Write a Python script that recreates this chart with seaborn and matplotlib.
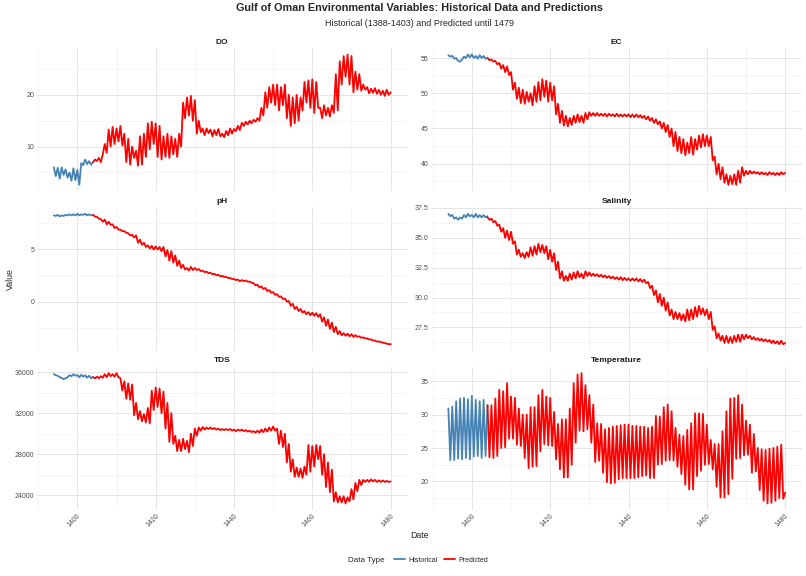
import numpy as np
import pandas as pd
import matplotlib
matplotlib.use("Agg")
import matplotlib.pyplot as plt
import seaborn as sns
from matplotlib.ticker import MultipleLocator, FormatStrFormatter
from matplotlib.lines import Line2D

# --- values (two readings per year) ---
HIST_START = 1394.0
PRED_START = 1404.0

do_hist = [6.0, 4.3, 5.9, 3.8, 6.0, 4.5, 5.6, 4.0, 5.0, 3.4, 5.8, 3.5, 5.5, 2.6,
           6.8, 6.4, 7.5, 6.6, 7.2, 6.5, 7.0]
do_pred = [7.0, 7.5, 7.2, 7.8, 7.0, 8.5, 10.5, 8.8, 13.3, 10.0, 13.8, 10.5, 13.5, 11.0, 14.0, 10.2, 12.5, 7.0, 11.5, 6.5,
           10.0, 7.8, 9.2, 6.3, 12.0, 6.5, 12.5, 8.0, 14.5, 9.5, 14.8, 10.5, 14.5, 8.0, 14.0, 7.5, 12.0, 8.0, 12.5, 7.8,
           12.0, 8.5, 11.5, 8.0, 12.5, 10.0, 18.5, 15.5, 19.5, 16.0, 19.8, 15.0, 19.0, 12.5, 15.0, 12.8, 13.5, 12.2, 13.5, 12.6,
           13.3, 12.0, 13.2, 12.2, 13.4, 12.0, 12.5, 11.8, 13.0, 12.2, 13.5, 12.5, 13.4, 13.0, 14.0, 13.2, 14.6, 14.0, 14.8, 14.3,
           15.0, 14.5, 15.2, 14.8, 15.5, 15.0, 17.5, 16.0, 20.5, 17.5, 21.5, 18.5, 22.0, 18.0, 22.0, 17.0, 21.5, 18.0, 22.0, 15.5,
           20.0, 14.0, 19.5, 14.5, 20.0, 15.0, 19.5, 17.0, 22.5, 18.5, 22.8, 17.5, 23.0, 16.5, 22.5, 17.5, 17.5, 15.5, 18.0, 16.0,
           17.5, 15.8, 18.0, 16.5, 24.0, 17.0, 26.5, 22.0, 27.5, 23.5, 27.8, 22.0, 27.5, 20.5, 24.5, 21.0, 24.0, 20.8, 22.0, 21.0,
           21.5, 20.3, 21.2, 20.4, 21.3, 20.2, 21.0, 20.0, 20.8, 19.8, 21.0, 20.0,
           20.5]

ec_hist = [55.4, 55.2, 55.3, 54.9, 55.0, 54.6, 54.5, 54.8, 55.2, 55.0, 55.5, 55.1, 55.5, 55.0,
           55.3, 54.9, 55.4, 55.0, 55.3, 54.9, 55.0]
ec_pred = [55.0, 54.7, 54.8, 54.5, 54.6, 54.1, 54.3, 53.5, 54.0, 53.0, 53.8, 52.6, 53.0, 50.5, 51.5, 49.2, 50.8, 48.6, 50.5, 48.5,
           50.2, 48.8, 50.0, 48.3, 51.0, 48.8, 51.6, 49.0, 52.0, 49.5, 51.8, 48.8, 51.5, 49.0, 51.0, 47.0, 48.5, 45.8, 47.5, 45.4,
           46.8, 45.3, 46.5, 45.5, 46.8, 45.8, 47.0, 45.9, 46.8, 45.8, 47.2, 46.3, 47.3, 46.8, 47.2, 46.8, 47.2, 46.8, 47.1, 46.8,
           47.1, 46.7, 47.1, 46.8, 47.0, 46.7, 47.1, 46.7, 47.0, 46.7, 47.0, 46.7, 47.0, 46.6, 47.0, 46.6, 47.0, 46.6, 46.9, 46.5,
           46.8, 46.3, 46.7, 46.1, 46.5, 45.8, 46.3, 45.6, 46.0, 45.0, 45.8, 44.5, 45.5, 43.8, 45.0, 42.5, 44.5, 41.8, 43.8, 41.5,
           43.5, 41.2, 43.0, 41.5, 43.8, 41.3, 43.5, 42.0, 44.0, 42.3, 44.2, 42.5, 44.0, 42.5, 43.8, 40.5, 41.0, 38.5, 40.0, 37.8,
           39.5, 37.3, 38.5, 37.0, 38.3, 37.1, 38.5, 37.0, 39.0, 37.3, 39.5, 38.3, 39.0, 38.5, 39.0, 38.6, 38.9, 38.6, 38.8, 38.5,
           38.8, 38.5, 38.7, 38.4, 38.8, 38.5, 38.7, 38.4, 38.7, 38.4, 38.8, 38.5,
           38.7]

ph_hist = [8.2, 8.15, 8.25, 8.1, 8.2, 8.15, 8.25, 8.2, 8.3, 8.2, 8.3, 8.2, 8.35, 8.2,
           8.3, 8.25, 8.35, 8.2, 8.3, 8.2, 8.25]
ph_pred = [8.25, 8.1, 8.05, 7.9, 7.85, 7.6, 7.8, 7.35, 7.6, 7.3, 7.35, 7.0, 7.1, 6.85, 6.85, 6.7, 6.7, 6.55, 6.5, 6.3,
           6.35, 6.1, 6.3, 5.6, 5.9, 5.4, 5.6, 5.2, 5.35, 5.05, 5.3, 4.95, 5.25, 4.95, 5.2, 4.8, 5.2, 4.3, 4.9, 3.9,
           4.8, 3.7, 4.4, 3.4, 3.9, 3.2, 3.5, 3.05, 3.2, 2.95, 3.3, 3.0, 3.2, 3.0, 3.1, 2.9, 2.95, 2.8, 2.85, 2.7,
           2.75, 2.6, 2.65, 2.5, 2.55, 2.4, 2.45, 2.35, 2.35, 2.25, 2.25, 2.15, 2.15, 2.05, 2.1, 1.95, 2.05, 1.95, 2.0, 1.9,
           1.9, 1.8, 1.75, 1.55, 1.6, 1.35, 1.45, 1.2, 1.3, 1.0, 1.1, 0.85, 0.9, 0.65, 0.7, 0.45, 0.5, 0.25, 0.3, 0.0,
           0.05, -0.4, -0.2, -0.7, -0.5, -0.9, -0.7, -1.05, -0.9, -1.2, -1.0, -1.3, -1.05, -1.35, -1.1, -1.45, -1.2, -1.9, -1.5, -2.3,
           -1.7, -2.6, -2.0, -2.9, -2.4, -3.1, -2.8, -3.2, -3.0, -3.25, -3.05, -3.3, -3.1, -3.35, -3.2, -3.35, -3.3, -3.45, -3.4, -3.5,
           -3.5, -3.6, -3.6, -3.7, -3.7, -3.8, -3.8, -3.85, -3.9, -3.95, -4.0, -4.05,
           -4.05]

sal_hist = [37.0, 36.8, 36.9, 36.6, 36.7, 36.5, 36.7, 36.6, 36.9, 36.7, 37.0, 36.8, 36.9, 36.7,
            37.0, 36.7, 36.9, 36.7, 36.9, 36.7, 36.8]
sal_pred = [36.7, 36.5, 36.6, 36.3, 36.4, 36.0, 36.1, 35.5, 35.8, 35.0, 35.6, 34.8, 35.5, 34.5, 34.7, 33.6, 34.0, 33.4, 33.7, 33.3,
            33.8, 33.4, 34.2, 33.5, 34.3, 33.6, 34.5, 33.8, 34.4, 33.7, 34.3, 33.2, 34.0, 33.0, 33.7, 32.3, 33.0, 31.6, 32.2, 31.4,
            31.8, 31.4, 32.0, 31.5, 32.1, 31.6, 32.2, 31.7, 32.0, 31.6, 32.2, 31.8, 32.1, 31.8, 32.0, 31.8, 31.95, 31.75, 31.9, 31.7,
            31.85, 31.65, 31.8, 31.6, 31.75, 31.55, 31.7, 31.5, 31.7, 31.45, 31.65, 31.45, 31.6, 31.4, 31.6, 31.4, 31.6, 31.35, 31.55, 31.3,
            31.5, 31.2, 31.3, 30.8, 31.0, 30.2, 30.6, 29.6, 30.3, 29.3, 30.0, 28.9, 29.6, 28.5, 29.0, 28.2, 28.8, 28.2, 28.7, 28.1,
            28.6, 28.0, 29.0, 28.1, 29.0, 28.2, 29.2, 28.4, 29.3, 28.6, 29.1, 28.5, 29.0, 28.2, 28.8, 27.3, 27.6, 26.6, 27.0, 26.4,
            26.8, 26.2, 26.8, 26.2, 26.7, 26.2, 26.8, 26.3, 26.9, 26.3, 26.9, 26.5, 26.9, 26.6, 26.8, 26.5, 26.7, 26.45, 26.6, 26.4,
            26.55, 26.35, 26.5, 26.3, 26.45, 26.2, 26.4, 26.15, 26.35, 26.1, 26.4, 26.1,
            26.2]

tds_hist = [35800, 35700, 35650, 35500, 35450, 35300, 35400, 35500, 35700, 35600, 35800, 35650, 35700, 35500,
            35750, 35550, 35700, 35450, 35650, 35400, 35550]
tds_pred = [35500, 35400, 35550, 35400, 35600, 35450, 35800, 35500, 35900, 35600, 35800, 35550, 35900, 35500, 35400, 34200, 35100, 33400, 34900, 33300,
            34800, 31800, 33000, 31400, 32200, 31200, 31900, 31100, 32500, 31000, 34200, 32300, 34500, 32600, 34400, 32000, 34100, 30500, 33000, 29200,
            32000, 29000, 29800, 28300, 29400, 28300, 29500, 28500, 29300, 28200, 30000, 28800, 30500, 29800, 30600, 30300, 30650, 30400, 30600, 30450,
            30600, 30450, 30550, 30400, 30500, 30350, 30450, 30350, 30450, 30350, 30450, 30300, 30400, 30250, 30400, 30300, 30400, 30250, 30350, 30200,
            30300, 30150, 30250, 30100, 30300, 30100, 30400, 30150, 30500, 30200, 30600, 30300, 30700, 30300, 30500, 29000, 30300, 28700, 30000, 27200,
            29000, 26300, 27500, 25800, 26700, 25800, 26600, 25700, 26800, 26000, 28900, 26300, 28800, 26800, 28900, 27500, 28800, 26000, 28000, 24800,
            27200, 24300, 26500, 23400, 24300, 23300, 23900, 23300, 23900, 23200, 23800, 23400, 24600, 23600, 25200, 24400, 25500, 25000, 25500, 25300,
            25500, 25300, 25550, 25350, 25500, 25300, 25450, 25300, 25450, 25300, 25400, 25300,
            25350]

temp_hist = [30.9, 23.2, 31.2, 23.2, 32.0, 23.4, 32.4, 23.3, 32.5, 23.5, 32.3, 23.3, 32.8, 23.7,
             32.2, 23.8, 32.0, 23.5, 32.2, 23.8, 31.4]
# yearly summer peaks and winter troughs of the predicted temperature
temp_peaks = [31.4, 31.4, 32.4, 33.7, 33.5, 34.7, 32.7, 32.5, 30.9, 30.0,
              30.0, 31.1, 31.1, 32.9, 33.7, 32.7, 32.5, 30.4, 28.6, 29.3,
              29.3, 30.9, 34.7, 36.0, 36.2, 34.4, 32.9, 31.5, 28.7, 28.6,
              27.8, 28.0, 28.2, 28.3, 28.4, 28.5, 28.5, 28.3, 28.3, 28.2,
              28.2, 28.0, 28.2, 29.8, 29.7, 31.1, 31.5, 30.5, 28.0, 27.0,
              26.8, 27.7, 28.7, 30.2, 30.2, 30.1, 28.5, 26.2, 25.6, 25.6,
              27.5, 30.5, 32.4, 32.5, 32.9, 31.5, 29.1, 28.5, 27.1, 25.0,
              24.8, 24.7, 24.9, 25.0, 25.2, 25.5]
temp_troughs = [23.6, 23.5, 23.8, 25.0, 25.1, 26.4, 26.4, 25.5, 25.3, 23.5,
                22.0, 22.2, 22.3, 24.5, 25.6, 25.4, 25.3, 23.3, 21.8, 20.6,
                20.6, 22.5, 25.8, 27.6, 27.5, 27.8, 25.8, 22.9, 23.1, 21.3,
                19.9, 19.7, 19.8, 20.3, 20.5, 20.5, 20.5, 20.5, 20.6, 20.8,
                20.9, 20.5, 20.5, 22.5, 22.6, 23.1, 23.2, 23.1, 22.2, 21.1,
                19.5, 18.8, 18.8, 20.8, 21.6, 22.5, 22.6, 21.8, 19.2, 17.6,
                17.6, 18.1, 20.4, 23.4, 23.5, 23.9, 24.0, 21.3, 21.5, 18.7,
                17.1, 16.7, 16.8, 17.1, 17.5, 17.4]
temp_end = 18.3
temp_pred = list(np.column_stack([temp_peaks, temp_troughs]).ravel()) + [temp_end]

series = {
    "DO": (do_hist, do_pred),
    "EC": (ec_hist, ec_pred),
    "pH": (ph_hist, ph_pred),
    "Salinity": (sal_hist, sal_pred),
    "TDS": (tds_hist, tds_pred),
    "Temperature": (temp_hist, temp_pred),
}

# --- long table, ggplot style ---
rows = []
for var, (hist, pred) in series.items():
    for i, v in enumerate(hist):
        rows.append((var, HIST_START + 0.5 * i, v, "Historical"))
    for i, v in enumerate(pred):
        rows.append((var, PRED_START + 0.5 * i, v, "Predicted"))
df = pd.DataFrame(rows, columns=["Variable", "Date", "Value", "Data Type"])

palette = {"Historical": "#4682B4", "Predicted": "#FF0000"}
y_steps = {"DO": 10, "EC": 5, "pH": 5, "Salinity": 2.5, "TDS": 4000, "Temperature": 5}

sns.set_theme(style="white")
plt.rcParams["font.family"] = ["Liberation Sans", "DejaVu Sans"]

fig, axes = plt.subplots(3, 2, figsize=(8.06, 5.76), dpi=100, sharex=True)
fig.subplots_adjust(left=37 / 806, right=802 / 806, top=1 - 48 / 576, bottom=1 - 510 / 576,
                    wspace=24 / 370, hspace=16 / 144)

for ax, var in zip(axes.ravel(), series.keys()):
    sub = df[df["Variable"] == var]
    sns.lineplot(data=sub, x="Date", y="Value", hue="Data Type", palette=palette,
                 hue_order=["Historical", "Predicted"], estimator=None,
                 linewidth=1.3, legend=False, ax=ax)
    ax.set_title(var, fontsize=6, fontweight="bold", pad=3, color="#1A1A1A")
    ax.set_xlabel("")
    ax.set_ylabel("")
    ax.xaxis.set_major_locator(MultipleLocator(20))
    ax.xaxis.set_minor_locator(MultipleLocator(10))
    ax.yaxis.set_major_locator(MultipleLocator(y_steps[var]))
    ax.yaxis.set_minor_locator(MultipleLocator(y_steps[var] / 2))
    if var == "Salinity":
        ax.yaxis.set_major_formatter(FormatStrFormatter("%.1f"))
    ax.grid(True, which="major", color="#E5E5E5", linewidth=0.7)
    ax.grid(True, which="minor", color="#F2F2F2", linewidth=0.45)
    ax.set_axisbelow(True)
    for s in ax.spines.values():
        s.set_visible(False)
    ax.tick_params(which="both", length=0, labelsize=5, colors="#4D4D4D", pad=2)

for ax in axes[-1]:
    plt.setp(ax.get_xticklabels(), rotation=45, ha="right", rotation_mode="anchor")

fig.suptitle("Gulf of Oman Environmental Variables: Historical Data and Predictions",
             x=0.52, y=1 - 8 / 576, va="center", fontsize=7.8, fontweight="bold")
fig.text(0.52, 1 - 23 / 576, "Historical (1388-1403) and Predicted until 1479",
         ha="center", va="center", fontsize=6.5)
fig.text(10 / 806, 1 - 279 / 576, "Value", rotation=90, ha="center", va="center", fontsize=6.3)
fig.text(0.52, 1 - 536 / 576, "Date", ha="center", va="center", fontsize=6.3)

# legend at the bottom, title to the left like ggplot
fig.text(348 / 806, 1 - 560 / 576, "Data Type", ha="left", va="center", fontsize=5.8)
handles = [Line2D([], [], color=palette[k], linewidth=1.3) for k in ["Historical", "Predicted"]]
fig.legend(handles, ["Historical", "Predicted"], loc="center left",
           bbox_to_anchor=(388 / 806, 1 - 560 / 576), ncol=2, frameon=False,
           fontsize=5, handlelength=1.6, handletextpad=0.4, columnspacing=1.0)

fig.savefig("out.png", dpi=100)
